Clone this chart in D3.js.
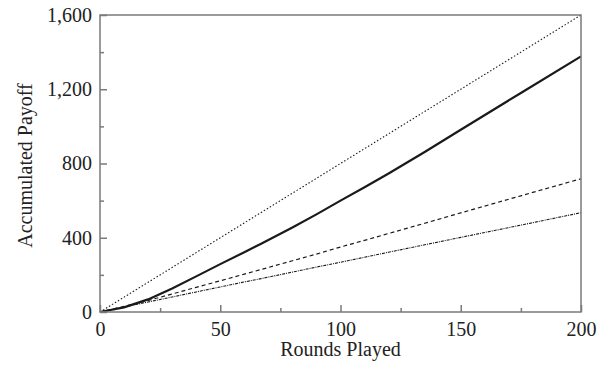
<!DOCTYPE html>
<html>
<head>
<meta charset="utf-8">
<script src="https://cdn.jsdelivr.net/npm/d3@7"></script>
<style>
  body { margin: 0; background: #fff; }
  text { font-family: "Liberation Serif", "DejaVu Serif", serif; fill: #222; }
</style>
</head>
<body>
<div id="chart"></div>
<script>
// rounds played (x) at which each curve was read
const rounds = [0, 10, 20, 30, 40, 50, 60, 67, 80, 90, 100, 110, 120, 135, 150, 175, 200];
// accumulated payoff per series
const upperDotted = [0, 80, 160, 240, 320, 400, 480, 536, 640, 720, 800, 880, 960, 1080, 1200, 1400, 1600];
const solid = [0, 25, 68, 127, 192, 258, 322, 368, 455, 526, 600, 672, 746, 862, 982, 1180, 1377];
const dashed = [0, 30, 62, 97, 133, 168, 204, 229, 276, 312, 350, 386, 423, 478, 534, 626, 718];
const lowerDotted = [0, 27, 54, 81, 108, 135, 162, 180, 215, 242, 268, 295, 322, 362, 402, 468, 535];

const xMajor = [0, 50, 100, 150, 200];
const xMinor = [25, 75, 125, 175];
const yMajor = [0, 400, 800, 1200, 1600];
const yMinor = [200, 600, 1000, 1400];

const series = [
  { values: upperDotted, width: 1.1, dash: "1.5,2" },
  { values: solid, width: 2.2, dash: null },
  { values: dashed, width: 1.2, dash: "4,3" },
  { values: lowerDotted, width: 1.1, dash: "3,1,1,1" }
];

// set the dimensions and margins of the graph
const margin = { top: 15, right: 27, bottom: 57, left: 100 };
const width = 608 - margin.left - margin.right;
const height = 369 - margin.top - margin.bottom;

const svg = d3.select("#chart")
  .append("svg")
  .attr("width", 608)
  .attr("height", 369)
  .append("g")
  .attr("transform", "translate(" + margin.left + "," + margin.top + ")");

const x = d3.scaleLinear().domain([0, 200]).range([0, width]);
const y = d3.scaleLinear().domain([0, 1600]).range([height, 0]);

const axisColor = "#7a7a7a";

// lines
series.forEach(function (s) {
  svg.append("path")
    .datum(rounds.map(function (r, i) { return [r, s.values[i]]; }))
    .attr("fill", "none")
    .attr("stroke", "#1a1a1a")
    .attr("stroke-width", s.width)
    .attr("stroke-dasharray", s.dash)
    .attr("d", d3.line()
      .x(function (d) { return x(d[0]); })
      .y(function (d) { return y(d[1]); })
    );
});

// frame
svg.append("rect")
  .attr("x", 0).attr("y", 0)
  .attr("width", width).attr("height", height)
  .attr("fill", "none")
  .attr("stroke", axisColor)
  .attr("stroke-width", 1.5);

// inward ticks
const xAxis = svg.append("g").attr("transform", "translate(0," + height + ")");
xAxis.call(d3.axisBottom(x).tickValues(xMajor).tickSize(-7).tickPadding(10).tickFormat(d3.format("d")));
xAxis.append("g").call(d3.axisBottom(x).tickValues(xMinor).tickSize(-4).tickFormat(""));

const yAxis = svg.append("g");
yAxis.call(d3.axisLeft(y).tickValues(yMajor).tickSize(-7).tickPadding(8).tickFormat(d3.format(",")));
yAxis.append("g").call(d3.axisLeft(y).tickValues(yMinor).tickSize(-4).tickFormat(""));

svg.selectAll(".domain").remove();
svg.selectAll(".tick line").attr("stroke", axisColor).attr("stroke-width", 1.5);
svg.selectAll(".tick text")
  .attr("fill", "#222")
  .style("font-family", "Liberation Serif, serif")
  .style("font-size", "20px");

// titles
svg.append("text")
  .attr("text-anchor", "middle")
  .attr("x", width / 2)
  .attr("y", height + 44)
  .style("font-size", "20px")
  .text("Rounds Played");

svg.append("text")
  .attr("text-anchor", "middle")
  .attr("transform", "translate(" + (-68) + "," + (height / 2 + 2) + ") rotate(-90)")
  .style("font-size", "20px")
  .text("Accumulated Payoff");
</script>
</body>
</html>
